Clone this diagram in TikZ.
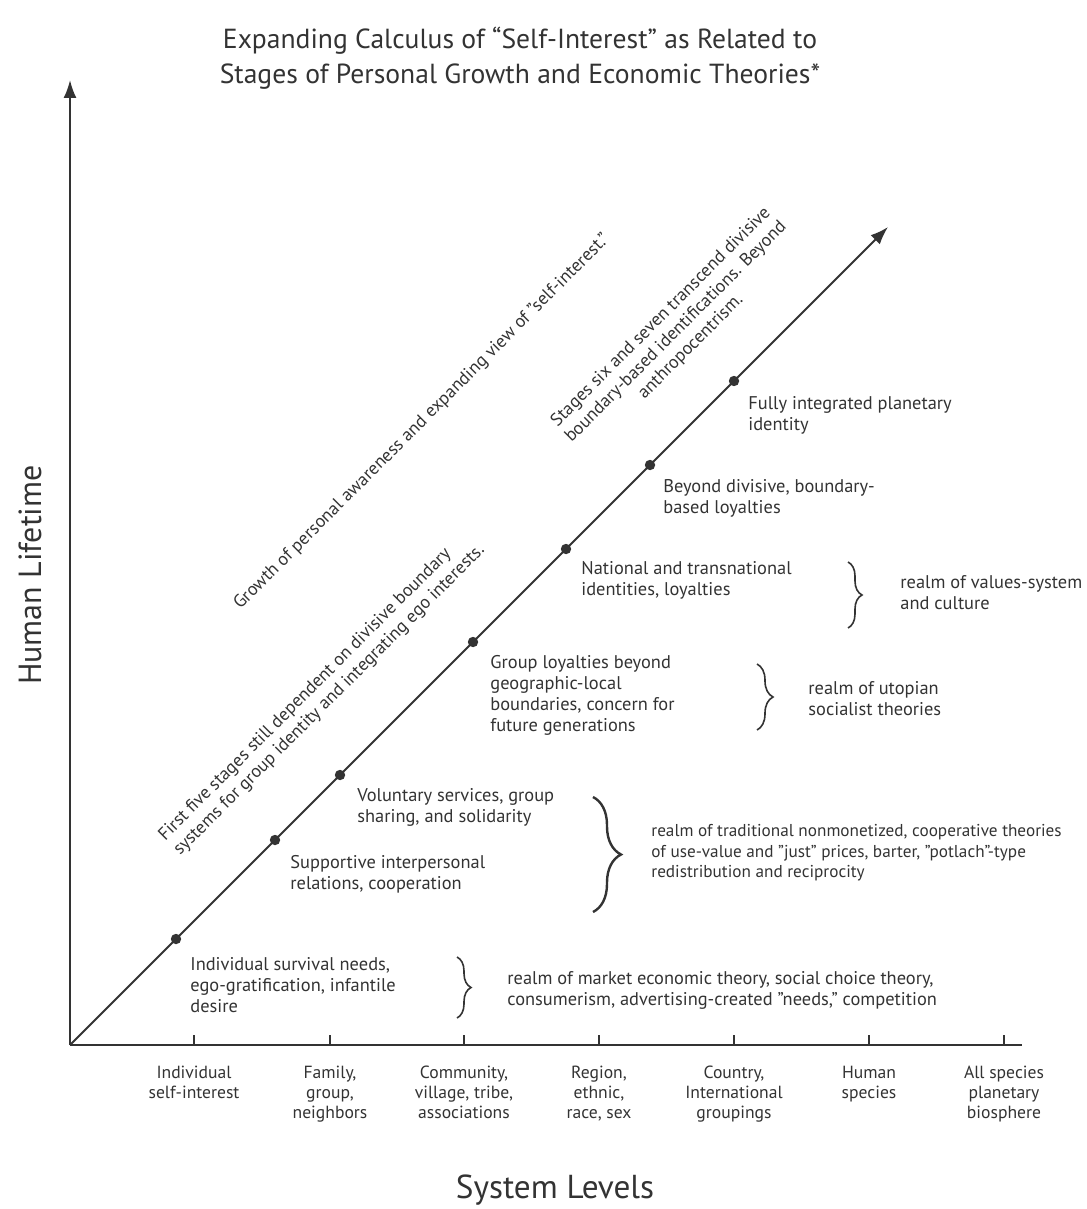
\documentclass[tikz,border=0pt]{standalone}
\usepackage{fontspec}
\setmainfont{PT Sans}
\usetikzlibrary{arrows.meta,decorations.pathreplacing}
\definecolor{ink}{gray}{0.2}
\tikzset{
	every node/.style={text=ink, font=\fontsize{9.2}{10.5}\selectfont},
	stage/.style={anchor=north west, align=left, inner sep=0pt},
	realm/.style={anchor=north west, align=left, inner sep=0pt},
	slanted/.style={rotate=45, inner sep=0pt, font=\fontsize{9}{10.5}\selectfont},
	level/.style={anchor=north, align=center, inner sep=0pt, font=\fontsize{8.8}{10}\selectfont},
	dot/.style={circle, fill=ink, inner sep=0pt, minimum size=5.2pt},
	axis/.style={line width=1pt, draw=ink},
	bracket/.style={draw=ink, line width=0.8pt, decorate, decoration={brace, amplitude=#1}}
}
\begin{document}
\begin{tikzpicture}[x=0.5pt, y=-0.5pt]
	\useasboundingbox (0,0) rectangle (1086,1209);
	%title
	\node[align=center, font=\fontsize{13.8}{17.5}\selectfont] (title) at (520,58)
		{Expanding Calculus of “Self-Interest” as Related to\\Stages of Personal Growth and Economic Theories*};
	%axes
	\coordinate (o) at (70,1045);
	\coordinate (ytip) at (70,80);
	\coordinate (xend) at (1022,1045);
	\draw[axis, -{Latex[length=9pt,width=6.5pt]}] (o) -- (ytip);
	\draw[axis] (o) -- (xend);
	\node[rotate=90, font=\fontsize{16}{18}\selectfont] (ylab) at (30,575) {Human Lifetime};
	\node[font=\fontsize{16.6}{18}\selectfont] (xlab) at (555,1190) {System Levels};
	%levels
	\foreach \x/\lab [count=\i] in {194/{Individual\\self-interest}, 330/{Family,\\group,\\neighbors},
		464/{Community,\\village, tribe,\\associations}, 599/{Region,\\ethnic,\\race, sex},
		734/{Country,\\International\\groupings}, 869/{Human\\species},
		1004/{All species\\planetary\\biosphere}}{
		\coordinate (t\i) at (\x,1045);
		\draw[axis, line width=0.7pt] (t\i) -- ++(0,-10);
		\node[level] (l\i) at (\x,1066) {\lab};
	}
	%diagonal
	\coordinate (dtip) at (888,227);
	\draw[axis, -{Latex[length=9pt,width=6.5pt]}] (o) -- (dtip);
	\node[dot] (s1) at (176,939) {};
	\node[dot] (s2) at (275,840) {};
	\node[dot] (s3) at (340,775) {};
	\node[dot] (s4) at (473,642) {};
	\node[dot] (s5) at (566,549) {};
	\node[dot] (s6) at (650,465) {};
	\node[dot] (s7) at (734,381) {};
	%stages
	\node[stage] (n1) at (190,957) {Individual survival needs,\\ego-gratification, infantile\\desire};
	\node[stage] (n2) at (290,855) {Supportive interpersonal\\relations, cooperation};
	\node[stage] (n3) at (357,788) {Voluntary services, group\\sharing, and solidarity};
	\node[stage] (n4) at (490,655) {Group loyalties beyond\\geographic-local\\boundaries, concern for\\future generations};
	\node[stage] (n5) at (581,561) {National and transnational\\identities, loyalties};
	\node[stage] (n6) at (663,479) {Beyond divisive, boundary-\\based loyalties};
	\node[stage] (n7) at (748,396) {Fully integrated planetary\\identity};
	%braces
	\coordinate (b1a) at (457,957); \coordinate (b1b) at (457,1018);
	\coordinate (b2a) at (593,797); \coordinate (b2b) at (593,912);
	\coordinate (b3a) at (757,664); \coordinate (b3b) at (757,730);
	\coordinate (b4a) at (848,562); \coordinate (b4b) at (848,628);
	\draw[bracket=7pt] (b1a) -- (b1b);
	\draw[bracket=14pt, line width=1.2pt] (b2a) -- (b2b);
	\draw[bracket=8pt] (b3a) -- (b3b);
	\draw[bracket=7pt] (b4a) -- (b4b);
	%realms
	\node[realm] (r1) at (507,971) {realm of market economic theory, social choice theory,\\consumerism, advertising-created ”needs,” competition};
	\node[realm, font=\fontsize{8.6}{10.3}\selectfont] (r2) at (651,824) {realm of traditional nonmonetized, cooperative theories\\of use-value and ”just” prices, barter, ”potlach”-type\\redistribution and reciprocity};
	\node[realm] (r3) at (808,681) {realm of utopian\\socialist theories};
	\node[realm] (r4) at (900,575) {realm of values-system\\and culture};
	%slanted notes
	\node[slanted] (growth) at (422,422) {Growth of personal awareness and expanding view of ”self-interest.”};
	\node[slanted, align=left] (first) at (322,693) {First five stages still dependent on divisive boundary\\systems for group identity and integrating ego interests.};
	\node[slanted, align=center] (beyond) at (676,332) {Stages six and seven transcend divisive\\boundary-based identifications. Beyond\\anthropocentrism.};
\end{tikzpicture}
\end{document}
